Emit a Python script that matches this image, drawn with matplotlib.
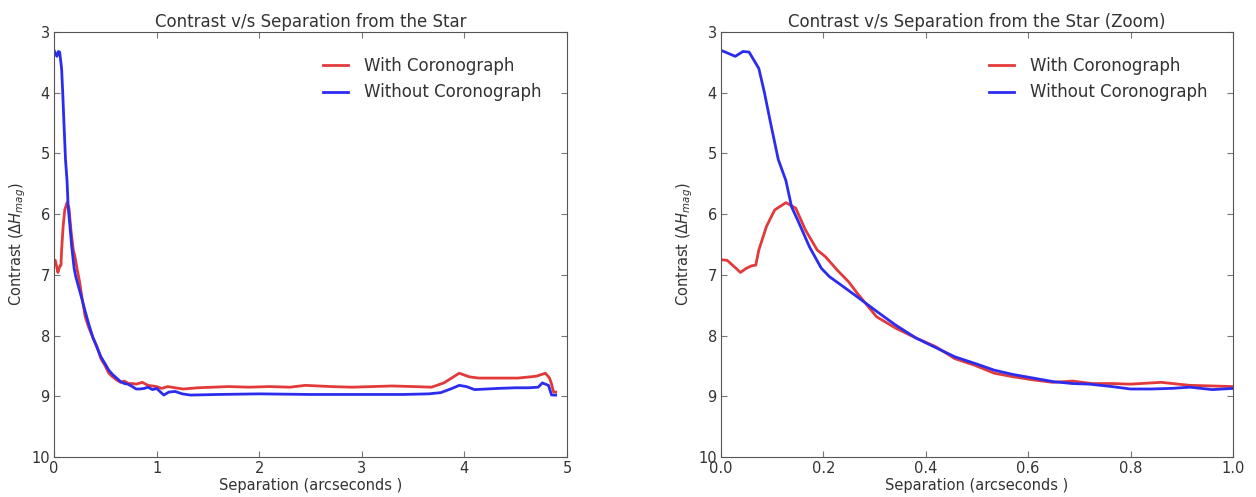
import matplotlib
matplotlib.use("Agg")
import matplotlib.pyplot as plt

# Separation (arcseconds) and contrast (delta H mag)
sep_with = [0, 0.012, 0.028, 0.038, 0.05, 0.06, 0.068, 0.074, 0.089, 0.105,
            0.127, 0.146, 0.165, 0.188, 0.204, 0.227, 0.25, 0.266, 0.304, 0.342,
            0.381, 0.419, 0.457, 0.496, 0.534, 0.572, 0.61, 0.648, 0.687, 0.725,
            0.764, 0.80, 0.86, 0.916, 0.96, 1.0, 1.05, 1.11, 1.18, 1.26,
            1.4, 1.55, 1.7, 1.9, 2.1, 2.3, 2.45, 2.7, 2.9, 3.1,
            3.3, 3.5, 3.68, 3.8, 3.95, 4.05, 4.14, 4.3, 4.52, 4.7,
            4.79, 4.83, 4.85, 4.87, 4.89]
contrast_with = [6.75, 6.76, 6.88, 6.96, 6.89, 6.85, 6.84, 6.59, 6.2, 5.93,
                 5.81, 5.9, 6.26, 6.59, 6.7, 6.92, 7.12, 7.3, 7.69, 7.88,
                 8.04, 8.18, 8.38, 8.49, 8.62, 8.68, 8.73, 8.77, 8.75, 8.79,
                 8.79, 8.8, 8.77, 8.82, 8.83, 8.84, 8.87, 8.84, 8.86, 8.88,
                 8.86, 8.85, 8.84, 8.85, 8.84, 8.85, 8.82, 8.84, 8.85, 8.84,
                 8.83, 8.84, 8.85, 8.78, 8.62, 8.68, 8.7, 8.7, 8.7, 8.67,
                 8.62, 8.7, 8.8, 8.93, 8.93]

sep_without = [0, 0.028, 0.043, 0.055, 0.074, 0.085, 0.097, 0.112, 0.127, 0.138,
               0.15, 0.173, 0.196, 0.212, 0.24, 0.266, 0.304, 0.34, 0.381, 0.42,
               0.457, 0.5, 0.534, 0.57, 0.61, 0.65, 0.687, 0.72, 0.764, 0.80,
               0.84, 0.88, 0.916, 0.96, 1.0, 1.07, 1.12, 1.18, 1.25, 1.33,
               1.6, 2.0, 2.5, 3.0, 3.4, 3.65, 3.77, 3.88, 3.95, 4.02,
               4.1, 4.33, 4.5, 4.63, 4.72, 4.76, 4.82, 4.85, 4.89]
contrast_without = [3.30, 3.40, 3.32, 3.33, 3.60, 4.0, 4.5, 5.1, 5.45, 5.88,
                    6.1, 6.54, 6.89, 7.03, 7.2, 7.36, 7.6, 7.82, 8.04, 8.2,
                    8.35, 8.47, 8.57, 8.64, 8.70, 8.76, 8.79, 8.80, 8.84, 8.88,
                    8.88, 8.87, 8.85, 8.89, 8.87, 8.98, 8.93, 8.92, 8.96, 8.98,
                    8.97, 8.96, 8.97, 8.97, 8.97, 8.96, 8.94, 8.87, 8.82, 8.84,
                    8.89, 8.87, 8.86, 8.86, 8.85, 8.78, 8.82, 8.98, 8.98]

titles = ["Contrast v/s Separation from the Star",
          "Contrast v/s Separation from the Star (Zoom)"]
x_limits = [(0, 5), (0, 1)]
x_ticks = [[0, 1, 2, 3, 4, 5], [0.0, 0.2, 0.4, 0.6, 0.8, 1.0]]
x_ticklabels = [["0", "1", "2", "3", "4", "5"],
                ["0.0", "0.2", "0.4", "0.6", "0.8", "1.0"]]
y_ticks = [3, 4, 5, 6, 7, 8, 9, 10]

RED = "#e23a3a"
BLUE = "#2c2cf0"
TEXT = "#333333"

fig = plt.figure(figsize=(12.56, 4.97), dpi=100)
axes = [fig.add_axes([0.043, 0.0805, 0.4084, 0.855]),
        fig.add_axes([0.574, 0.0805, 0.4076, 0.855])]

for i, ax in enumerate(axes):
    ax.plot(sep_with, contrast_with, color=RED, lw=2, label="With Coronograph")
    ax.plot(sep_without, contrast_without, color=BLUE, lw=2,
            label="Without Coronograph")
    ax.set_xlim(*x_limits[i])
    ax.set_ylim(10, 3)
    ax.set_xticks(x_ticks[i])
    ax.set_xticklabels(x_ticklabels[i])
    ax.set_yticks(y_ticks)
    ax.tick_params(direction="in", top=True, right=True, length=4,
                   labelsize=10.5, colors="#777777", labelcolor=TEXT, pad=3)
    for spine in ax.spines.values():
        spine.set_color("#555555")
    ax.set_title(titles[i], fontsize=12, color=TEXT, pad=4)
    ax.set_xlabel("Separation (arcseconds )", fontsize=10.5, color=TEXT,
                  labelpad=1)
    ax.set_ylabel(r"Contrast ($\Delta H_{mag}$)", fontsize=10.5, color=TEXT,
                  labelpad=2)
    ax.legend(loc="upper right", frameon=False, fontsize=12, handlelength=1.5,
              handletextpad=1.0, labelspacing=0.5, borderaxespad=1.1,
              labelcolor=TEXT)

fig.savefig("out.png", dpi=100)
